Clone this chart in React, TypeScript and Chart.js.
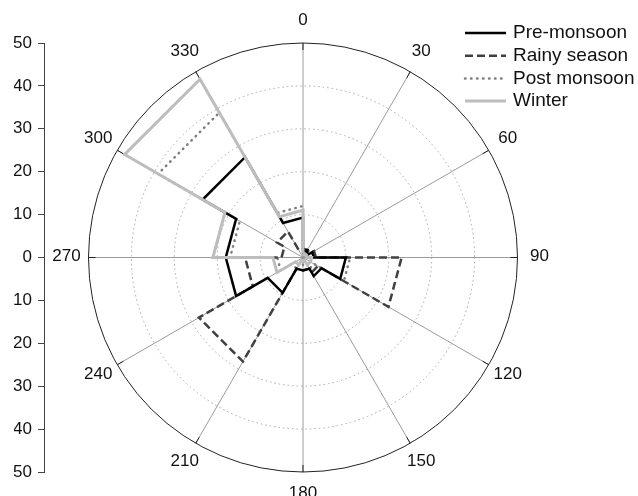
import { useEffect, useRef } from 'react';
import { Chart, registerables } from 'chart.js';

Chart.register(...registerables);

// Direction sectors (start angle, degrees clockwise from north), 30° wide
const sectorStarts = [0, 30, 60, 90, 120, 150, 180, 210, 240, 270, 300, 330];
const angleLabels = ['0', '30', '60', '90', '120', '150', '180', '210', '240', '270', '300', '330'];
const ringValues = [10, 20, 30, 40, 50];

const seriesNames = ['Pre-monsoon', 'Rainy season', 'Post monsoon', 'Winter'];
const preMonsoon = [2, 1.5, 2.5, 10, 5, 3, 3, 9.5, 18, 18, 27, 9.3];
const rainySeason = [1.5, 2, 3, 23, 4, 3, 3, 28, 13.5, 5, 7, 2];
const postMonsoon = [1, 1, 1.5, 11, 3, 2, 1.5, 3, 6, 17, 39, 12];
const winter = [1, 1, 1, 2, 2, 1, 1, 2, 7, 21, 48, 11];

const SECTOR_WIDTH = 30;
const R_MAX = 50;
const FONT = '"Liberation Sans", Arial, Helvetica, sans-serif';

// Closed outline of a wind-rose series: a straight chord across every sector at its value,
// joined to the neighbouring sector along the shared spoke.
function sectorOutline(values: number[]) {
  const pts: { x: number; y: number }[] = [];
  values.forEach((v, i) => {
    const a0 = sectorStarts[i];
    [a0, a0 + SECTOR_WIDTH].forEach((a) => {
      const t = (a * Math.PI) / 180;
      pts.push({ x: v * Math.sin(t), y: v * Math.cos(t) });
    });
  });
  pts.push({ ...pts[0] });
  return pts;
}

const polarGrid = {
  id: 'polarGrid',
  beforeDatasetsDraw(chart: any) {
    const { ctx } = chart;
    const xs = chart.scales.x;
    const ys = chart.scales.y;
    const cx = xs.getPixelForValue(0);
    const cy = ys.getPixelForValue(0);
    const rad = (v: number) => cy - ys.getPixelForValue(v);
    const R = rad(R_MAX);
    ctx.save();
    // dotted rings
    ctx.strokeStyle = '#a6a6a6';
    ctx.lineWidth = 1;
    ctx.setLineDash([1.5, 3]);
    ringValues.slice(0, -1).forEach((v) => {
      ctx.beginPath();
      ctx.arc(cx, cy, rad(v), 0, Math.PI * 2);
      ctx.stroke();
    });
    ctx.setLineDash([]);
    // spokes
    ctx.strokeStyle = '#9a9a9a';
    sectorStarts.forEach((a) => {
      const t = (a * Math.PI) / 180;
      ctx.beginPath();
      ctx.moveTo(cx, cy);
      ctx.lineTo(cx + R * Math.sin(t), cy - R * Math.cos(t));
      ctx.stroke();
    });
    // outer ring and its tick marks
    ctx.strokeStyle = '#222';
    ctx.beginPath();
    ctx.arc(cx, cy, R, 0, Math.PI * 2);
    ctx.stroke();
    sectorStarts.forEach((a) => {
      const t = (a * Math.PI) / 180;
      ctx.beginPath();
      ctx.moveTo(cx + R * Math.sin(t), cy - R * Math.cos(t));
      ctx.lineTo(cx + (R - 7) * Math.sin(t), cy - (R - 7) * Math.cos(t));
      ctx.stroke();
    });
    // direction labels
    ctx.fillStyle = '#111';
    ctx.font = `17px ${FONT}`;
    ctx.textAlign = 'center';
    ctx.textBaseline = 'middle';
    sectorStarts.forEach((a, i) => {
      const t = (a * Math.PI) / 180;
      const lr = R + 22;
      ctx.fillText(angleLabels[i], cx + lr * Math.sin(t), cy - lr * Math.cos(t) - 1);
    });
    ctx.restore();
  },
};

const lineLegend = {
  id: 'lineLegend',
  afterDraw(chart: any) {
    const { ctx } = chart;
    const x0 = 465;
    const x1 = 506;
    const top = 33;
    const step = 22.7;
    ctx.save();
    ctx.font = `19px ${FONT}`;
    ctx.textBaseline = 'middle';
    ctx.textAlign = 'left';
    chart.data.datasets.forEach((ds: any, i: number) => {
      const y = top + i * step;
      ctx.strokeStyle = ds.borderColor;
      ctx.lineWidth = ds.borderWidth;
      ctx.lineCap = ds.borderCapStyle || 'butt';
      ctx.setLineDash(ds.borderDash || []);
      ctx.beginPath();
      ctx.moveTo(x0, y);
      ctx.lineTo(x1, y);
      ctx.stroke();
      ctx.setLineDash([]);
      ctx.fillStyle = '#111';
      ctx.fillText(ds.label, x1 + 7, y);
    });
    ctx.restore();
  },
};

export default function App() {
  const canvasRef = useRef<HTMLCanvasElement>(null);

  useEffect(() => {
    const canvas = canvasRef.current;
    if (!canvas) return;
    const base = {
      showLine: true,
      fill: false,
      pointRadius: 0,
      pointHoverRadius: 0,
      borderJoinStyle: 'miter',
      tension: 0,
    };
    const chart = new Chart(canvas, {
      type: 'scatter',
      data: {
        datasets: [
          { ...base, label: seriesNames[0], data: sectorOutline(preMonsoon), borderColor: '#000000', borderWidth: 2.5, order: 1 },
          { ...base, label: seriesNames[1], data: sectorOutline(rainySeason), borderColor: '#404040', borderWidth: 2.5, borderDash: [8, 4], order: 2 },
          { ...base, label: seriesNames[2], data: sectorOutline(postMonsoon), borderColor: '#7f7f7f', borderWidth: 2.5, borderDash: [0.5, 5.5], borderCapStyle: 'round', order: 3 },
          { ...base, label: seriesNames[3], data: sectorOutline(winter), borderColor: '#bdbdbd', borderWidth: 3, order: 0 },
        ] as any,
      },
      options: {
        responsive: false,
        animation: false,
        events: [],
        layout: { padding: { left: 14, top: 43, right: 0, bottom: 24 } },
        plugins: {
          legend: { display: false },
          tooltip: { enabled: false },
        },
        scales: {
          x: {
            type: 'linear',
            display: false,
            min: -60.37,
            max: 78.09,
          },
          y: {
            type: 'linear',
            position: 'left',
            min: -R_MAX,
            max: R_MAX,
            afterFit: (s: any) => {
              s.width = 30;
            },
            ticks: {
              stepSize: 10,
              callback: (v: any) => String(Math.abs(Number(v))),
              color: '#111',
              font: { family: FONT, size: 17 },
              padding: 6,
            },
            grid: { drawOnChartArea: false, drawTicks: true, tickLength: 6, color: '#444', lineWidth: 1 },
            border: { display: true, color: '#444', width: 1 },
          },
        },
      } as any,
      plugins: [polarGrid, lineLegend],
    });
    return () => chart.destroy();
  }, []);

  return (
    <div style={{ position: 'fixed', left: 0, top: 0, width: 638, height: 496, background: '#fff' }}>
      <canvas ref={canvasRef} width={638} height={496} style={{ display: 'block' }} />
    </div>
  );
}
